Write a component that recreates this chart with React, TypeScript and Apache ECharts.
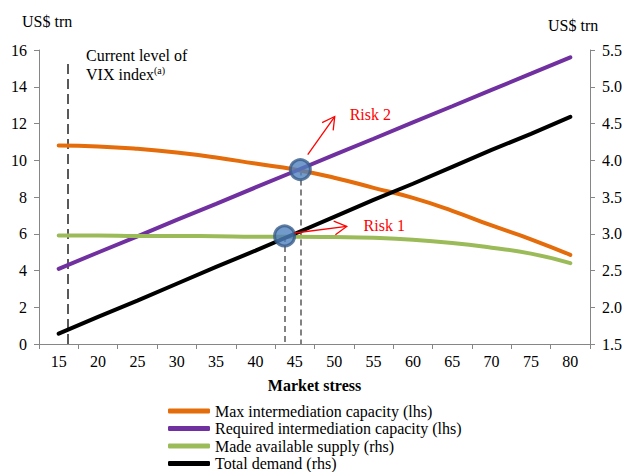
import React, { useEffect, useRef } from "react";
import * as echarts from "echarts";

// ---- Data ----
const stressLevels = [15, 20, 25, 30, 35, 40, 45, 50, 55, 60, 65, 70, 75, 80];
const categoryLabels = stressLevels.map(String);

// lhs, US$ trn
const maxCapacity = [10.8, 10.75, 10.62, 10.42, 10.15, 9.82, 9.5, 9.05, 8.5, 7.95, 7.25, 6.45, 5.7, 4.85];
const requiredCapacity = [4.09, 4.98, 5.86, 6.75, 7.63, 8.52, 9.4, 10.29, 11.17, 12.06, 12.94, 13.83, 14.71, 15.6];
// rhs, US$ trn
const availableSupply = [2.975, 2.975, 2.97, 2.97, 2.965, 2.96, 2.96, 2.955, 2.945, 2.92, 2.875, 2.81, 2.73, 2.6];
const totalDemand = [1.64, 1.87, 2.09, 2.32, 2.55, 2.77, 3.0, 3.23, 3.46, 3.68, 3.91, 4.14, 4.36, 4.59];

const seriesNames = [
  "Max intermediation capacity (lhs)",
  "Required intermediation capacity (lhs)",
  "Made available supply (rhs)",
  "Total demand (rhs)",
];

// Annotation anchors (data coordinates)
const vixLevel = 16.2;
const vixTop = 15.4;
const risk1Point: [number, number] = [43.7, 2.97]; // rhs
const risk2Point: [number, number] = [45.7, 9.49]; // lhs
const risk1Arrow = { from: [44.99, 3.01], to: [51.59, 3.1], text: [53.74, 3.11], yAxis: 1, label: "Risk 1" };
const risk2Arrow = { from: [46.64, 10.31], to: [50.07, 12.38], text: [51.97, 12.49], yAxis: 0, label: "Risk 2" };

const FONT = "Liberation Serif";
const AXIS_GRAY = "#868686";

const pairs = (ys: number[]) => stressLevels.map((x, i) => [x, ys[i]]);

function arrowHead(p0: number[], p1: number[], len: number, angDeg: number) {
  const dx = p1[0] - p0[0];
  const dy = p1[1] - p0[1];
  const L = Math.hypot(dx, dy);
  const bx = -dx / L;
  const by = -dy / L;
  const a = (angDeg * Math.PI) / 180;
  const rot = (t: number) => [
    p1[0] + len * (bx * Math.cos(t) - by * Math.sin(t)),
    p1[1] + len * (bx * Math.sin(t) + by * Math.cos(t)),
  ];
  return [rot(a), [p1[0], p1[1]], rot(-a)];
}

export default function App() {
  const ref = useRef<HTMLDivElement>(null);

  useEffect(() => {
    if (!ref.current) return;
    const chart = echarts.init(ref.current, null, { renderer: "svg" });

    const lineSeries = (name: string, data: number[], color: string, yAxisIndex: number, smooth: boolean) => ({
      name,
      type: "line",
      xAxisIndex: 1,
      yAxisIndex,
      data: pairs(data),
      smooth,
      showSymbol: false,
      symbol: "none",
      lineStyle: { color, width: 4, cap: "round" },
      itemStyle: { color },
      z: 2,
    });

    const dashed = (color: string, width: number, dash: number[]) => ({
      color,
      width,
      type: dash,
    });

    const option: any = {
      animation: false,
      textStyle: { fontFamily: FONT },
      grid: { left: 39, right: 38, top: 50, bottom: 128, containLabel: false },
      legend: {
        data: seriesNames,
        orient: "vertical",
        left: 168,
        top: 403,
        height: 80,
        padding: 0,
        itemWidth: 42,
        itemHeight: 5,
        itemGap: 1.5,
        icon: "roundRect",
        textStyle: { fontFamily: FONT, fontSize: 16, color: "#000" },
      },
      xAxis: [
        {
          type: "category",
          data: categoryLabels,
          boundaryGap: true,
          axisLine: { lineStyle: { color: AXIS_GRAY } },
          axisTick: { show: true, interval: 0, alignWithLabel: false, length: 5, lineStyle: { color: AXIS_GRAY } },
          axisLabel: { interval: 0, fontFamily: FONT, fontSize: 16, color: "#000", margin: 9 },
          splitLine: { show: false },
          name: "Market stress",
          nameLocation: "middle",
          nameGap: 33,
          nameTextStyle: { fontFamily: FONT, fontSize: 16, fontWeight: "bold", color: "#000" },
        },
        {
          type: "value",
          min: 12.5,
          max: 82.5,
          show: false,
        },
      ],
      yAxis: [
        {
          type: "value",
          position: "left",
          min: 0,
          max: 16,
          interval: 2,
          axisLine: { show: true, lineStyle: { color: AXIS_GRAY } },
          axisTick: { show: true, length: 5, lineStyle: { color: AXIS_GRAY } },
          axisLabel: { fontFamily: FONT, fontSize: 16, color: "#000", margin: 12 },
          splitLine: { show: false },
        },
        {
          type: "value",
          position: "right",
          min: 1.5,
          max: 5.5,
          interval: 0.5,
          axisLine: { show: true, lineStyle: { color: AXIS_GRAY } },
          axisTick: { show: true, length: 5, lineStyle: { color: AXIS_GRAY } },
          axisLabel: {
            fontFamily: FONT,
            fontSize: 16,
            color: "#000",
            margin: 12,
            formatter: (v: number) => v.toFixed(1),
          },
          splitLine: { show: false },
        },
      ],
      series: [
        {
          ...lineSeries(seriesNames[0], maxCapacity, "#E46C0A", 0, true),
          markLine: {
            silent: true,
            symbol: "none",
            label: { show: false },
            lineStyle: dashed("#595959", 2, [10, 5]),
            data: [[{ coord: [vixLevel, 0] }, { coord: [vixLevel, vixTop] }]],
            z: 1,
          },
        },
        {
          ...lineSeries(seriesNames[1], requiredCapacity, "#7030A0", 0, false),
          markLine: {
            silent: true,
            symbol: "none",
            label: { show: false },
            lineStyle: dashed("#595959", 1.5, [6, 4]),
            data: [[{ coord: [risk2Point[0], risk2Point[1]] }, { coord: [risk2Point[0], 0] }]],
            z: 1,
          },
        },
        lineSeries(seriesNames[2], availableSupply, "#9BBB59", 1, true),
        {
          ...lineSeries(seriesNames[3], totalDemand, "#000000", 1, false),
          markLine: {
            silent: true,
            symbol: "none",
            label: { show: false },
            lineStyle: dashed("#595959", 1.5, [6, 4]),
            data: [[{ coord: [risk1Point[0], risk1Point[1]] }, { coord: [risk1Point[0], 1.5] }]],
            z: 1,
          },
        },
        {
          name: "risk1",
          type: "scatter",
          xAxisIndex: 1,
          yAxisIndex: 1,
          data: [risk1Point],
          symbolSize: 20,
          itemStyle: { color: "#4F81BD", borderColor: "#385D8A", borderWidth: 3 },
          z: 6,
        },
        {
          name: "risk2",
          type: "scatter",
          xAxisIndex: 1,
          yAxisIndex: 0,
          data: [risk2Point],
          symbolSize: 20,
          itemStyle: { color: "#4F81BD", borderColor: "#385D8A", borderWidth: 3 },
          z: 6,
        },
      ],
    };

    chart.setOption(option);

    const toPx = (p: number[], yAxisIndex: number) =>
      chart.convertToPixel({ xAxisIndex: 1, yAxisIndex } as any, p) as number[];

    const textStyle = (text: string, fill: string) => ({
      text,
      fontFamily: FONT,
      fontSize: 16,
      fill,
      verticalAlign: "middle",
    });

    const graphics: any[] = [
      { type: "text", x: 22, y: 21, style: textStyle("US$ trn", "#000") },
      { type: "text", x: 548, y: 25, style: textStyle("US$ trn", "#000") },
      {
        type: "text",
        x: 86,
        y: 46,
        style: {
          text: "Current level of\nVIX index{sup|(a)}",
          fontFamily: FONT,
          fontSize: 16,
          lineHeight: 19,
          fill: "#000",
          rich: {
            sup: { fontFamily: FONT, fontSize: 10, verticalAlign: "top", lineHeight: 19, fill: "#000" },
          },
        },
      },
    ];

    [risk1Arrow, risk2Arrow].forEach((a) => {
      const p0 = toPx(a.from, a.yAxis);
      const p1 = toPx(a.to, a.yAxis);
      const head = arrowHead(p0, p1, 14, 29);
      graphics.push({
        type: "line",
        shape: { x1: p0[0], y1: p0[1], x2: p1[0], y2: p1[1] },
        style: { stroke: "#FF0000", lineWidth: 1.3 },
        z: 10,
      });
      graphics.push({
        type: "polyline",
        shape: { points: head },
        style: { stroke: "#FF0000", lineWidth: 1.3, fill: null },
        z: 10,
      });
      const t = toPx(a.text, a.yAxis);
      graphics.push({
        type: "text",
        x: t[0],
        y: t[1],
        style: textStyle(a.label, "#FF0000"),
        z: 10,
      });
    });

    chart.setOption({ graphic: graphics });

    return () => chart.dispose();
  }, []);

  return (
    <div
      ref={ref}
      style={{ position: "absolute", left: 0, top: 0, width: 628, height: 472 }}
    />
  );
}
